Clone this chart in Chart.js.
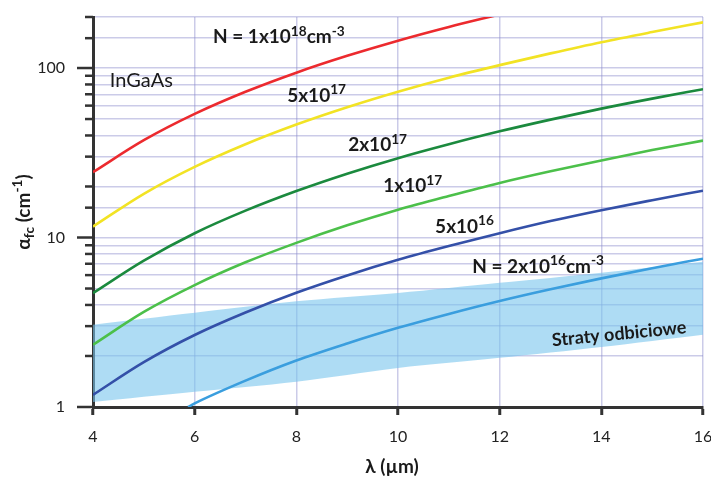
<!DOCTYPE html>
<html>
<head>
<meta charset="utf-8">
<script src="https://cdn.jsdelivr.net/npm/chart.js@4/dist/chart.umd.min.js"></script>
<style>
  html, body { margin: 0; padding: 0; background: #fff; }
  #wrap { width: 711px; height: 479px; }
</style>
</head>
<body>
<div id="wrap"><canvas id="chart"></canvas></div>
<script>
// wavelength grid (um) and absorption values (cm^-1)
var lambda = [4, 5, 6, 7, 8, 9, 10, 11, 12, 13, 14, 15, 16];
var n1e18 = [24.3, 37.5, 53.6, 72.4, 93.9, 118, 145, 174.7, 207];
var n5e17 = [11.6, 18.1, 26.1, 35.5, 46.4, 58.7, 72.5, 87.7, 104, 122, 142, 163, 186];
var n2e17 = [4.7, 7.3, 10.6, 14.4, 18.8, 23.8, 29.4, 35.5, 42.3, 49.6, 57.6, 66, 75];
var n1e17 = [2.33, 3.64, 5.24, 7.14, 9.3, 11.8, 14.6, 17.6, 21, 24.6, 28.5, 32.8, 37.3];
var n5e16 = [1.18, 1.84, 2.66, 3.61, 4.72, 5.97, 7.38, 8.9, 10.6, 12.5, 14.5, 16.6, 18.9];
var lambda2e16 = [5.87, 6, 7, 8, 9, 10, 11, 12, 13, 14, 15, 16];
var n2e16 = [1.0, 1.05, 1.43, 1.88, 2.37, 2.93, 3.54, 4.22, 4.95, 5.74, 6.59, 7.5];
// reflection loss band
var lambdaBand = [4, 6, 8, 10, 12, 14, 16];
var bandUpper = [3.06, 3.6, 4.2, 4.7, 5.4, 6.2, 7.2];
var bandLower = [1.07, 1.23, 1.41, 1.7, 1.95, 2.26, 2.67];
var xTicks = [4, 6, 8, 10, 12, 14, 16];
var yLabels = [1, 10, 100];

function pts(xs, ys) {
  var out = [];
  for (var i = 0; i < ys.length; i++) out.push({ x: xs[i], y: ys[i] });
  return out;
}

function line(data, color) {
  return {
    data: data, borderColor: color, borderWidth: 2.6, pointRadius: 0,
    fill: false, cubicInterpolationMode: 'monotone'
  };
}

// text labels, anchored in data coordinates
var FONT = 'Lato, "Open Sans", sans-serif';
var notes = [
  { x: 6.36, y: 140, runs: [['N = 1x10'], ['18', 1], ['cm'], ['-3', 1]] },
  { x: 4.33, y: 77, runs: [['InGaAs']], weight: 'normal' },
  { x: 7.82, y: 63, runs: [['5x10'], ['17', 1]] },
  { x: 9.02, y: 32.3, runs: [['2x10'], ['17', 1]] },
  { x: 9.71, y: 18.5, runs: [['1x10'], ['17', 1]] },
  { x: 10.73, y: 10.7, runs: [['5x10'], ['16', 1]] },
  { x: 11.46, y: 6.2, runs: [['N = 2x10'], ['16', 1], ['cm'], ['-3', 1]] }
];

function runSize(r, size) { return r[1] ? size * 0.72 : size; }

function drawRuns(ctx, x, y, runs, size, weight) {
  var cx = x;
  runs.forEach(function (r) {
    var dy = r[1] === 1 ? -size * 0.4 : (r[1] === -1 ? size * 0.2 : 0);
    ctx.font = weight + ' ' + runSize(r, size) + 'px ' + FONT;
    ctx.fillText(r[0], cx, y + dy);
    cx += ctx.measureText(r[0]).width;
  });
  return cx - x;
}

function runsWidth(ctx, runs, size, weight) {
  var w = 0;
  runs.forEach(function (r) {
    ctx.font = weight + ' ' + runSize(r, size) + 'px ' + FONT;
    w += ctx.measureText(r[0]).width;
  });
  return w;
}

var overlay = {
  id: 'overlay',
  afterDatasetsDraw: function (chart) {
    var ctx = chart.ctx, xs = chart.scales.x, ys = chart.scales.y;
    var area = chart.chartArea;
    ctx.save();
    // y tick marks: long for decades, short for the rest
    ctx.strokeStyle = '#333';
    ctx.lineWidth = 2.5;
    ys.ticks.forEach(function (t) {
      var py = ys.getPixelForValue(t.value);
      var len = yLabels.indexOf(t.value) >= 0 ? 16 : 8;
      ctx.beginPath();
      ctx.moveTo(area.left - len, py);
      ctx.lineTo(area.left, py);
      ctx.stroke();
    });

    // y tick labels
    ctx.fillStyle = '#222';
    ctx.font = '16px ' + FONT;
    ctx.textAlign = 'right';
    ctx.textBaseline = 'middle';
    yLabels.forEach(function (v) {
      ctx.fillText(String(v), area.left - 28, ys.getPixelForValue(v));
    });

    ctx.fillStyle = '#1a1a1a';
    ctx.textBaseline = 'alphabetic';
    ctx.textAlign = 'left';
    notes.forEach(function (n) {
      drawRuns(ctx, xs.getPixelForValue(n.x), ys.getPixelForValue(n.y), n.runs,
               n.weight ? 20 : 19, n.weight || 'bold');
    });

    // reflection-loss label, slightly tilted
    ctx.save();
    ctx.translate(xs.getPixelForValue(14.35), ys.getPixelForValue(2.7));
    ctx.rotate(-5.6 * Math.PI / 180);
    ctx.textAlign = 'center';
    ctx.textBaseline = 'middle';
    ctx.font = 'bold 18px ' + FONT;
    ctx.fillText('Straty odbiciowe', 0, 0);
    ctx.restore();

    // y axis title
    var yt = [['\u03b1'], ['fc', -1], [' (cm'], ['-1', 1], [')']];
    ctx.save();
    ctx.translate(30, (area.top + area.bottom) / 2);
    ctx.rotate(-Math.PI / 2);
    ctx.textAlign = 'left';
    var w = runsWidth(ctx, yt, 19, 'bold');
    drawRuns(ctx, -w / 2, 0, yt, 19, 'bold');
    ctx.restore();

    // x axis title
    ctx.font = 'bold 19px ' + FONT;
    ctx.textAlign = 'center';
    ctx.textBaseline = 'middle';
    ctx.fillText('\u03bb (\u00b5m)', (area.left + area.right) / 2 - 6, 467);
    ctx.restore();
  }
};

var gridColor = 'rgba(140, 140, 205, 0.45)';

new Chart(document.getElementById('chart'), {
  type: 'line',
  data: {
    datasets: [
      line(pts(lambda, n1e18), '#ec2a2e'),
      line(pts(lambda, n5e17), '#f2e324'),
      line(pts(lambda, n2e17), '#1b8a3e'),
      line(pts(lambda, n1e17), '#4cc04a'),
      line(pts(lambda, n5e16), '#3450a8'),
      line(pts(lambda2e16, n2e16), '#3a9ede'),
      {
        data: pts(lambdaBand, bandUpper), borderWidth: 0, pointRadius: 0,
        fill: '+1', backgroundColor: 'rgba(120, 196, 236, 0.6)', tension: 0.3
      },
      {
        data: pts(lambdaBand, bandLower), borderWidth: 0, pointRadius: 0,
        fill: false, tension: 0.3
      }
    ]
  },
  options: {
    responsive: true,
    maintainAspectRatio: false,
    animation: false,
    events: [],
    layout: { padding: { top: 17, right: 8, left: 0, bottom: 0 } },
    plugins: { legend: { display: false }, tooltip: { enabled: false } },
    scales: {
      x: {
        type: 'linear', min: 4, max: 16,
        afterBuildTicks: function (s) { s.ticks = xTicks.map(function (v) { return { value: v }; }); },
        afterFit: function (s) { s.height = 72; s.paddingLeft = 0; s.paddingRight = 0; },
        grid: { color: gridColor, lineWidth: 1.5, tickColor: '#333', tickLength: 8, tickWidth: 3 },
        border: { color: '#333', width: 3 },
        ticks: { color: '#222', padding: 12, maxRotation: 0, font: { family: FONT, size: 16 } }
      },
      y: {
        type: 'logarithmic', min: 1, max: 200,
        afterFit: function (s) { s.width = 93; s.paddingTop = 0; s.paddingBottom = 0; },
        grid: { color: gridColor, lineWidth: 1.5, drawTicks: false },
        border: { color: '#333', width: 3 },
        ticks: { display: false, autoSkip: false }
      }
    }
  },
  plugins: [overlay]
});
</script>
</body>
</html>
